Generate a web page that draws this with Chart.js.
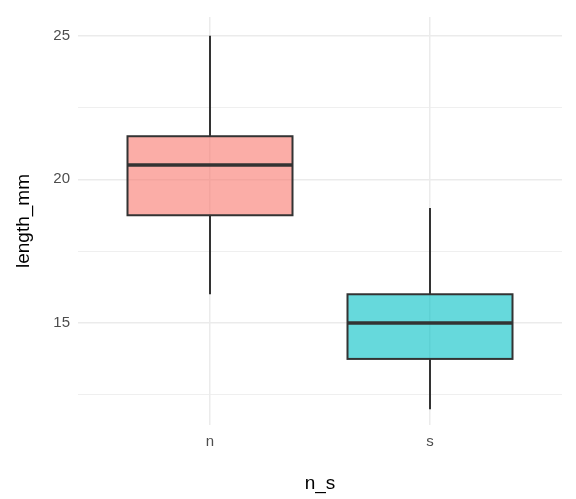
<!DOCTYPE html>
<html><head><script src="https://cdn.jsdelivr.net/npm/chart.js@4"></script>
<style>body{margin:0;background:#fff}#w{width:576px;height:499px}</style></head>
<body><div id="w"><canvas id="c"></canvas></div>
<script>
const categories=["n","s"];
const mins=[16,12];
const q1s=[18.75,13.75];
const medians=[20.5,15];
const q3s=[21.5,16];
const maxs=[25,19];
const fills=["rgba(248,118,109,0.6)","rgba(0,191,196,0.6)"];
const yTicks=[12.5,15,17.5,20,22.5,25];

const boxPlugin={id:'box',afterDatasetsDraw(ch){
  const c=ch.ctx,x=ch.scales.x,y=ch.scales.y;
  categories.forEach((cat,i)=>{
    const cx=x.getPixelForValue(i+1),l=x.getPixelForValue(i+1-0.375),r=x.getPixelForValue(i+1+0.375);
    c.save();c.strokeStyle='#333';c.lineWidth=2;
    c.beginPath();c.moveTo(cx,y.getPixelForValue(maxs[i]));c.lineTo(cx,y.getPixelForValue(q3s[i]));
    c.moveTo(cx,y.getPixelForValue(q1s[i]));c.lineTo(cx,y.getPixelForValue(mins[i]));c.stroke();
    const t=y.getPixelForValue(q3s[i]),b=y.getPixelForValue(q1s[i]);
    c.fillStyle=fills[i];c.fillRect(l,t,r-l,b-t);c.strokeRect(l,t,r-l,b-t);
    c.lineWidth=3.5;c.beginPath();const m=y.getPixelForValue(medians[i]);c.moveTo(l,m);c.lineTo(r,m);c.stroke();
    c.restore();
  });
}};
new Chart(document.getElementById('c'),{type:'scatter',data:{datasets:[{data:[]}]},
options:{responsive:true,maintainAspectRatio:false,animation:false,
layout:{padding:{left:8,top:12,right:14,bottom:0}},
plugins:{legend:{display:false},tooltip:{enabled:false}},
scales:{
 x:{type:'linear',min:0.4,max:2.6,afterBuildTicks:s=>{s.ticks=[{value:1},{value:2}]},
  afterFit:s=>{s.height=74},
  border:{display:false},grid:{color:'#ebebeb',lineWidth:1.5,drawTicks:false},
  ticks:{padding:8,color:'#4d4d4d',font:{family:'Liberation Sans',size:15},callback:v=>categories[v-1]},
  title:{display:true,text:'n_s',color:'#000',font:{family:'Liberation Sans',size:19},padding:{top:4}}},
 y:{min:11.45,max:25.65,afterBuildTicks:s=>{s.ticks=yTicks.map(v=>({value:v}))},
  afterFit:s=>{s.width=70},
  border:{display:false},grid:{color:'#ebebeb',lineWidth:c=>c.tick&&c.tick.value%5===0?1.5:0.8,drawTicks:false},
  ticks:{padding:8,color:'#4d4d4d',font:{family:'Liberation Sans',size:15},callback:v=>v%5===0?String(v):''},
  title:{display:true,text:'length_mm',color:'#000',font:{family:'Liberation Sans',size:19},padding:{bottom:6}}}
}},plugins:[boxPlugin]});
</script></body></html>
